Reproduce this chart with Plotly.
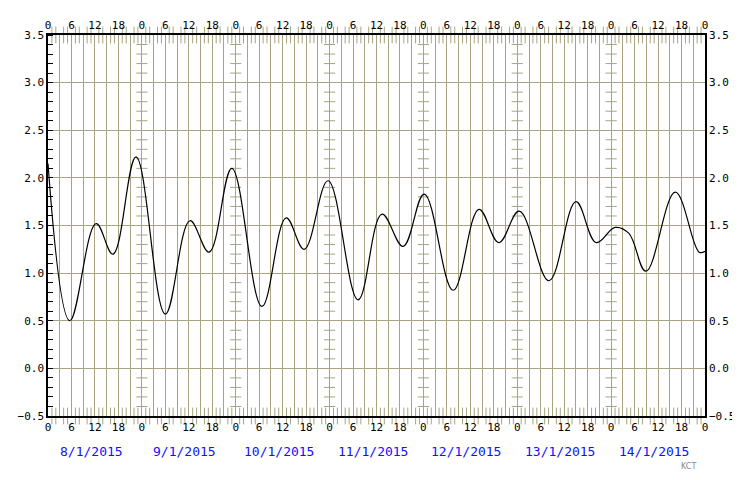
import plotly.graph_objects as go

hours = [0, 5.6, 12.3, 16.6, 22.5, 30, 36.3, 41.2, 47, 54.7, 60.9, 65.5, 71.6,
         79.3, 85.4, 90.8, 96.2, 103.6, 110.2, 115.3, 120.5, 128.1, 135, 140.2,
         145, 148.5, 152.9, 160.4, 166.5, 168]
level = [2.15, 0.5, 1.52, 1.2, 2.22, 0.57, 1.55, 1.22, 2.1, 0.65, 1.58, 1.25, 1.97,
         0.72, 1.62, 1.28, 1.83, 0.82, 1.67, 1.32, 1.65, 0.92, 1.75, 1.32,
         1.48, 1.42, 1.02, 1.85, 1.22, 1.23]
dates = ["8/1/2015", "9/1/2015", "10/1/2015", "11/1/2015", "12/1/2015", "13/1/2015", "14/1/2015"]
hour_labels = ["0", "", "6", "", "12", "", "18", ""]
y_ticks = [-0.5, 0.0, 0.5, 1.0, 1.5, 2.0, 2.5, 3.0, 3.5]

grid = "#a8a482"
font = dict(family="DejaVu Sans Mono", size=11, color="black")

tv = list(range(0, 169, 3))
tt = [hour_labels[(v // 3) % 8] for v in tv]
minor_h = [h for h in range(0, 169) if h % 3]

fig = go.Figure()
dx, dy = [], []
for d in range(1, 7):
    for k in range(-5, 36):
        if k % 5:
            dx.append(d * 24); dy.append(k / 10)
fig.add_trace(go.Scatter(x=dx, y=dy, mode="markers", hoverinfo="skip",
                         marker=dict(symbol="line-ew", size=8, line=dict(color=grid, width=1))))
# hourly minor ticks along top and bottom edges
fig.add_trace(go.Scatter(x=minor_h, y=[-0.5] * len(minor_h), mode="markers", hoverinfo="skip", cliponaxis=False,
                         marker=dict(symbol="line-ns", size=12, line=dict(color=grid, width=1))))
fig.add_trace(go.Scatter(x=minor_h, y=[3.5] * len(minor_h), mode="markers", hoverinfo="skip", cliponaxis=False,
                         marker=dict(symbol="line-ns", size=12, line=dict(color=grid, width=1))))
fig.add_trace(go.Scatter(x=hours, y=level, mode="lines", line=dict(color="black", width=1.2, shape="spline", smoothing=1.1)))
fig.add_trace(go.Scatter(x=[0, 168], y=[-1, -1], xaxis="x2", yaxis="y2", mode="markers", marker=dict(opacity=0)))

axcommon = dict(range=[0, 168], tickvals=tv, ticktext=tt, ticks="", tickfont=font, automargin=False,
                showline=True, linecolor="black", linewidth=1.5, zeroline=False)
fig.update_layout(
    width=740, height=480, showlegend=False,
    paper_bgcolor="white", plot_bgcolor="white",
    margin=dict(l=40, r=43, t=27, b=72, autoexpand=False),
    xaxis=dict(**axcommon, showgrid=True, gridcolor=grid, gridwidth=1),
    xaxis2=dict(**axcommon, overlaying="x", side="top", showgrid=False),
    yaxis=dict(range=[-0.5, 3.5], tickvals=y_ticks, tickformat=".1f", tickfont=font, automargin=False,
               showgrid=True, gridcolor=grid, zeroline=False, showline=True, linecolor="black", linewidth=1.5,
               ticks="", minor=dict(dtick=0.1, ticks="inside", ticklen=5, tickcolor="black", showgrid=False)),
    yaxis2=dict(range=[-0.5, 3.5], tickvals=y_ticks, tickformat=".1f", tickfont=font, overlaying="y", automargin=False,
                side="right", showgrid=False, zeroline=False, showline=True, linecolor="black", linewidth=1.5),
)
for i, d in enumerate(dates):
    fig.add_annotation(x=i * 24 + 11, y=0, yref="paper", yshift=-35, yanchor="middle", text=d, showarrow=False,
                       font=dict(family="DejaVu Sans Mono", size=13, color="#1010ff"))
fig.add_annotation(x=0.99, y=0, xref="paper", yref="paper", yshift=-50, yanchor="middle", text="KCT", showarrow=False,
                   font=dict(family="DejaVu Sans", size=8, color="#888888"))
fig.write_html("out.html")
